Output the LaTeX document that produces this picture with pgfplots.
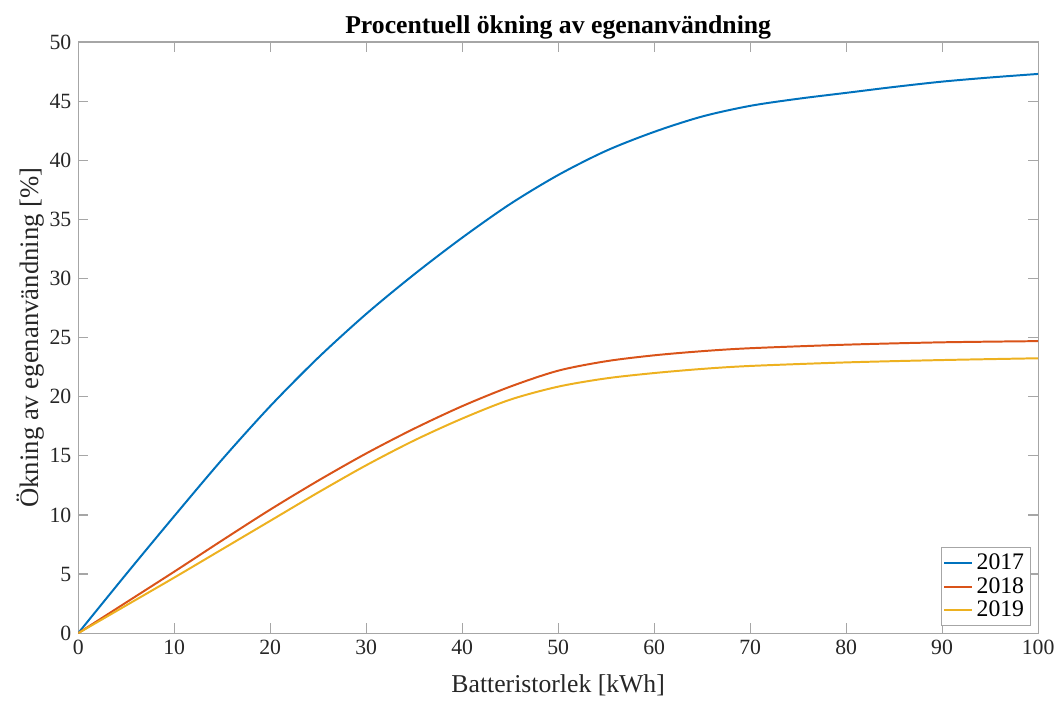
\documentclass[border=0pt]{standalone}
\usepackage{pgfplots}
\pgfplotsset{compat=1.18}
\usepackage{fontspec}
\setmainfont{Liberation Serif}

\definecolor{mlblue}{rgb}{0,0.447,0.741}
\definecolor{mlorange}{rgb}{0.85,0.325,0.098}
\definecolor{mlyellow}{rgb}{0.929,0.694,0.125}
\definecolor{axgray}{HTML}{A6A6A6}
\definecolor{txtgray}{HTML}{262626}

\begin{document}
\begin{tikzpicture}
\begin{axis}[
    scale only axis,
    width=485.5pt, height=299pt,
    xmin=0, xmax=100, ymin=0, ymax=50,
    xtick={0,10,...,100}, ytick={0,5,...,50},
    xticklabels={0,10,20,30,40,50,60,70,80,90,100},
    yticklabels={0,5,10,15,20,25,30,35,40,45,50},
    tick align=inside, tick pos=both,
    major tick length=5pt,
    axis line style={axgray, line width=0.6pt},
    every tick/.style={axgray, line width=0.6pt},
    tick label style={font=\rmfamily\fontsize{11}{12}\selectfont, text=txtgray},
    title={Procentuell ökning av egenanvändning},
    title style={font=\fontsize{13}{14}\selectfont\bfseries, at={(0.5,1)}, anchor=south, yshift=-8pt},
    xlabel={Batteristorlek [kWh]},
    ylabel={Ökning av egenanvändning [\%]},
    xlabel style={font=\fontsize{13}{14}\selectfont, text=txtgray, yshift=-3pt},
    ylabel style={font=\fontsize{13.5}{14}\selectfont, text=txtgray, yshift=-4pt},
    legend style={at={(rel axis cs:0.992,0.012)}, anchor=south east,
        draw=axgray, font=\fontsize{12}{13.5}\selectfont, inner sep=1pt,
        row sep=-1.5pt, legend cell align=left},
    legend image code/.code={\draw[#1] (0cm,0cm) -- (14pt,0cm);},
    every axis plot/.append style={line width=1pt, smooth, tension=0.5},
]
\addplot[mlblue] coordinates {
(0,0) (5,5.0) (10,9.9) (15,14.7) (20,19.2) (25,23.3) (30,27.0)
(35,30.35) (40,33.45) (45,36.3) (50,38.75) (55,40.8) (60,42.4) (65,43.7)
(70,44.6) (75,45.2) (80,45.7) (85,46.2) (90,46.65) (95,47.0) (100,47.3)};
\addlegendentry{2017}
\addplot[mlorange] coordinates {
(0,0) (5,2.6) (10,5.2) (15,7.85) (20,10.45) (25,12.9) (30,15.2) (35,17.3)
(40,19.2) (45,20.85) (50,22.2) (55,23.0) (60,23.5) (65,23.85) (70,24.1)
(80,24.4) (90,24.6) (100,24.7)};
\addlegendentry{2018}
\addplot[mlyellow] coordinates {
(0,0) (5,2.35) (10,4.7) (15,7.1) (20,9.5) (25,11.9) (30,14.2) (35,16.3)
(40,18.15) (45,19.75) (50,20.85) (55,21.55) (60,22.0) (65,22.35) (70,22.6)
(80,22.9) (90,23.1) (100,23.25)};
\addlegendentry{2019}
\end{axis}
\path ([xshift=-5pt]current axis.outer west);
\path ([yshift=4.5pt]current axis.outer north);
\end{tikzpicture}
\end{document}
